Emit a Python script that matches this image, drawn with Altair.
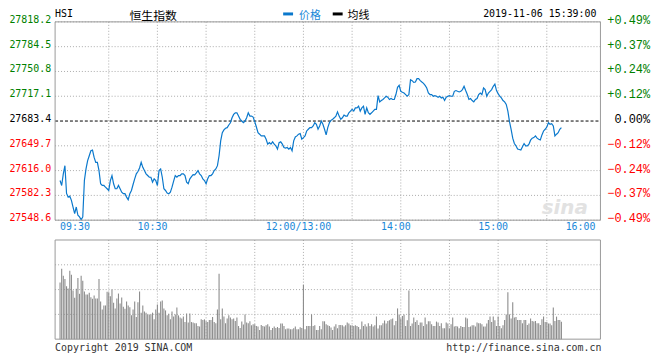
import altair as alt
import pandas as pd

# ---------------- data ----------------
prev_close = 27683.4

# price per trading minute (0 = 09:30, 150 = 12:00/13:00, 330 = 16:00)
prices = [
    27602.5, 27595.8, 27611.6, 27622.7, 27585.0, 27580.0, 27581.2, 27575.6, 27566.5, 27557.6,
    27566.5, 27555.3, 27553.0, 27549.0, 27553.0, 27602.5, 27618.3, 27629.5, 27636.2, 27643.0,
    27643.9, 27633.9, 27627.2, 27627.2, 27616.0, 27598.1, 27595.8, 27595.8, 27593.5, 27591.3,
    27589.0, 27602.5, 27609.3, 27598.1, 27591.3, 27591.3, 27595.8, 27591.3, 27586.7, 27584.6,
    27584.6, 27580.0, 27576.5, 27584.6, 27589.0, 27597.1, 27604.8, 27611.6, 27614.7, 27619.6,
    27627.2, 27620.4, 27616.0, 27611.6, 27609.3, 27607.0, 27607.0, 27600.2, 27604.8, 27602.5,
    27595.8, 27616.0, 27618.3, 27607.0, 27591.3, 27589.0, 27585.4, 27584.6, 27586.7, 27593.5,
    27601.6, 27609.3, 27607.0, 27609.3, 27609.3, 27611.6, 27611.6, 27609.3, 27600.2, 27598.1,
    27604.8, 27607.9, 27610.6, 27610.2, 27612.9, 27616.0, 27611.6, 27609.3, 27604.8, 27602.5,
    27598.1, 27604.8, 27609.3, 27609.3, 27611.6, 27616.0, 27618.3, 27622.7, 27636.2, 27656.4,
    27667.6, 27671.3, 27673.6, 27674.4, 27678.0, 27681.1, 27687.8, 27692.4, 27694.6, 27694.6,
    27690.1, 27685.7, 27683.4, 27681.1, 27683.4, 27687.8, 27694.6, 27690.1, 27690.1, 27688.8,
    27682.5, 27675.3, 27667.6, 27665.5, 27663.2, 27663.2, 27663.2, 27658.7, 27652.0, 27654.1,
    27652.0, 27655.1, 27652.0, 27649.7, 27645.3, 27654.1, 27655.1, 27652.0, 27647.4, 27646.6,
    27647.4, 27645.3, 27647.4, 27643.0, 27656.4, 27661.8, 27663.2, 27665.5, 27666.3, 27658.7,
    27660.9, 27663.2, 27669.9, 27672.2, 27674.4, 27674.4, 27676.7, 27681.1, 27679.0, 27672.2,
    27676.7, 27683.4, 27679.0, 27672.2, 27664.5, 27674.4, 27681.1, 27684.3, 27685.7, 27687.8,
    27690.1, 27695.9, 27690.1, 27685.7, 27687.8, 27691.5, 27690.1, 27690.1, 27694.6, 27696.9,
    27699.2, 27696.9, 27701.3, 27701.3, 27703.6, 27696.9, 27701.3, 27703.6, 27692.4, 27701.3,
    27694.6, 27692.4, 27694.6, 27696.9, 27699.2, 27699.2, 27718.0, 27709.4, 27711.3, 27712.7,
    27714.8, 27717.1, 27715.8, 27712.7, 27714.0, 27712.7, 27712.7, 27719.4, 27729.2, 27731.9,
    27723.8, 27722.5, 27721.5, 27719.4, 27717.1, 27719.4, 27739.6, 27738.3, 27736.0, 27736.4,
    27741.0, 27741.0, 27738.3, 27736.4, 27734.6, 27731.9, 27728.3, 27721.5, 27719.4, 27719.4,
    27717.1, 27718.0, 27717.1, 27715.8, 27717.1, 27714.8, 27715.8, 27711.3, 27715.8, 27717.1,
    27718.0, 27717.1, 27717.1, 27723.8, 27724.8, 27723.8, 27722.9, 27723.8, 27726.1, 27730.6,
    27724.8, 27719.4, 27712.7, 27714.0, 27711.3, 27709.4, 27712.7, 27714.0, 27719.4, 27721.5,
    27719.4, 27728.3, 27726.1, 27717.1, 27721.5, 27723.8, 27726.1, 27730.6, 27733.7, 27724.8,
    27720.7, 27717.1, 27714.8, 27711.3, 27709.4, 27705.9, 27696.9, 27682.5, 27672.2, 27660.1,
    27652.8, 27649.7, 27645.3, 27644.7, 27643.9, 27648.4, 27652.8, 27649.7, 27649.7, 27652.0,
    27657.4, 27660.1, 27660.9, 27663.2, 27660.1, 27658.7, 27657.8, 27664.5, 27669.9, 27672.2,
    27675.3, 27681.1, 27679.0, 27679.8, 27676.7, 27663.2, 27665.5, 27667.6, 27672.2, 27674.4,
]

# volume per trading minute (relative units)
volume = [
    2.29, 2.84, 2.56, 2.43, 2.13, 2.04, 2.76, 2.60, 1.96, 1.67,
    2.03, 2.47, 1.83, 2.56, 2.36, 1.92, 1.80, 1.80, 1.87, 1.69,
    1.63, 1.76, 1.64, 1.64, 2.43, 1.52, 1.20, 1.36, 1.36, 1.91,
    1.89, 1.73, 2.00, 1.47, 1.24, 1.64, 1.84, 1.44, 1.68, 1.31,
    1.23, 1.52, 1.36, 1.29, 0.96, 1.20, 1.52, 0.89, 1.49, 1.92,
    1.07, 1.36, 1.12, 1.07, 1.00, 1.00, 1.00, 1.07, 0.80, 1.20,
    1.40, 1.07, 1.52, 1.56, 1.24, 1.16, 0.96, 1.03, 0.80, 1.12,
    0.91, 1.00, 1.28, 0.96, 0.87, 0.83, 0.91, 0.69, 1.04, 0.67,
    1.04, 0.69, 0.67, 0.64, 0.64, 0.53, 0.51, 0.80, 0.77, 0.80,
    0.72, 0.69, 0.77, 0.77, 0.89, 0.69, 0.64, 1.20, 2.64, 0.80,
    1.24, 0.91, 0.64, 0.83, 0.96, 0.87, 0.80, 0.83, 0.73, 0.87,
    0.53, 0.45, 0.71, 0.59, 1.00, 0.67, 0.64, 0.72, 0.56, 0.60,
    0.60, 0.53, 0.51, 0.37, 0.57, 0.53, 0.51, 0.56, 0.60, 0.51,
    0.37, 0.45, 0.51, 0.45, 0.49, 0.45, 0.63, 0.63, 0.53, 0.40,
    0.43, 0.43, 0.40, 0.40, 0.44, 0.51, 0.40, 0.40, 0.48, 0.45,
    2.20, 0.40, 0.53, 0.53, 0.53, 1.00, 0.53, 0.56, 0.37, 0.37,
    0.53, 0.40, 0.72, 0.72, 0.60, 0.56, 0.53, 0.47, 0.37, 0.51,
    0.60, 0.44, 0.57, 0.57, 0.56, 0.51, 0.56, 0.67, 0.63, 0.56,
    0.56, 0.53, 0.56, 0.53, 0.49, 0.40, 0.71, 0.53, 0.60, 0.51,
    0.64, 0.53, 0.60, 0.51, 0.56, 0.91, 0.43, 0.56, 0.56, 0.64,
    0.75, 0.63, 0.73, 0.76, 0.80, 0.83, 0.56, 0.73, 1.24, 1.00,
    0.83, 0.93, 1.00, 0.53, 0.76, 1.96, 0.53, 0.63, 0.87, 0.69,
    0.76, 0.57, 0.67, 0.67, 0.53, 0.87, 0.60, 0.72, 0.72, 0.60,
    0.53, 0.53, 0.71, 0.67, 0.53, 0.64, 0.44, 0.44, 0.67, 0.63,
    0.44, 0.60, 0.87, 0.51, 0.53, 0.51, 0.44, 0.53, 0.49, 0.49,
    0.87, 0.83, 0.49, 0.51, 0.56, 0.56, 0.51, 0.67, 0.64, 0.64,
    0.60, 0.51, 0.51, 0.63, 0.77, 0.91, 0.69, 0.91, 0.76, 0.53,
    0.91, 0.53, 0.44, 0.56, 0.77, 1.00, 1.89, 1.00, 0.83, 1.49,
    0.87, 0.89, 0.77, 0.77, 0.77, 0.64, 0.77, 0.77, 0.57, 0.63,
    0.83, 0.73, 0.71, 0.73, 0.64, 0.64, 0.57, 0.80, 0.91, 0.69,
    0.69, 0.63, 0.63, 0.56, 1.28, 0.73, 0.91, 0.77, 0.77, 0.70,
]

price_ticks = [27818.2, 27784.5, 27750.8, 27717.1, 27683.4, 27649.7, 27616.0, 27582.3, 27548.6]
grid_minutes = [30, 60, 90, 120, 150, 180, 210, 240, 270, 300]
volume_grid = [1, 2, 3]
x_label_text = ["09:30", "10:30", "12:00/13:00", "14:00", "15:00", "16:00"]
x_label_minute = [0, 60, 150, 210, 270, 330]

# ---------------- frames ----------------
price_df = pd.DataFrame({"m": list(range(len(prices))), "price": prices})
vol_df = pd.DataFrame({"m": list(range(len(volume))), "v": volume})
tick_df = pd.DataFrame({"price": price_ticks})
grid_df = pd.DataFrame({"m": grid_minutes})
vgrid_df = pd.DataFrame({"v": volume_grid})
xl_df = pd.DataFrame({"m": x_label_minute, "label": x_label_text})
prev_df = pd.DataFrame({"price": [prev_close]})
one = pd.DataFrame({"k": [0]})

W, H = 550, 320
MAIN_H = 200
VOL_TOP, VOL_BOT = 220, 320
MONO = "DejaVu Sans Mono"
GRID = "#aaaaaa"
BORDER = "#999999"
BLUE = "#0a78cc"
LBLUE = "#1a88d8"

xs = alt.Scale(domain=[0, 330], nice=False, zero=False)
ys = alt.Scale(domain=[price_ticks[-1], price_ticks[0]], range=[MAIN_H, 0], nice=False, zero=False)
vs = alt.Scale(domain=[0, 4], range=[VOL_BOT, VOL_TOP], nice=False, zero=False)

X = alt.X("m:Q", scale=xs, axis=None)
Yp = alt.Y("price:Q", scale=ys, axis=None)
Yv = alt.Y("v:Q", scale=vs, axis=None)

side_expr = f"datum.price > {prev_close} ? 'up' : (datum.price < {prev_close} ? 'down' : 'flat')"
side_color = alt.Color("side:N", scale=alt.Scale(domain=["up", "flat", "down"],
                                                 range=["#008000", "#000000", "#ff0000"]), legend=None)

# ---------------- main panel ----------------
grid_h = alt.Chart(tick_df).transform_filter(f"datum.price != {prev_close}").mark_rule(
    color=GRID, strokeDash=[1, 2], strokeWidth=1).encode(y=Yp, x=alt.value(0), x2=alt.value(W))
grid_v = alt.Chart(grid_df).mark_rule(color=GRID, strokeDash=[1, 2], strokeWidth=1).encode(
    x=X, y=alt.value(0), y2=alt.value(MAIN_H))
prev_rule = alt.Chart(prev_df).mark_rule(color="black", strokeDash=[3, 2], strokeWidth=1).encode(
    y=Yp, x=alt.value(0), x2=alt.value(W))
line = alt.Chart(price_df).mark_line(color=BLUE, strokeWidth=1.2).encode(x=X, y=Yp)
border_main = alt.Chart(one).mark_rect(fillOpacity=0, stroke=BORDER, strokeWidth=1).encode(
    x=alt.value(0), x2=alt.value(W), y=alt.value(0), y2=alt.value(MAIN_H))
left_labels = alt.Chart(tick_df).transform_calculate(side=side_expr).mark_text(
    align="right", baseline="middle", font=MONO, fontSize=10, dy=-2).encode(
    y=Yp, x=alt.value(-4), text=alt.Text("price:Q", format=".1f"), color=side_color)
right_labels = alt.Chart(tick_df).transform_calculate(
    side=side_expr,
    pct=f"(datum.price > {prev_close} ? '+' : '') + format((datum.price - {prev_close}) / {prev_close} * 100, '.2f') + '%'"
).mark_text(align="right", baseline="middle", font="Liberation Mono", fontSize=12, dy=-2).encode(
    y=Yp, x=alt.value(600), text="pct:N", color=side_color)
watermark = alt.Chart(one).mark_text(text="sina", font="DejaVu Sans", fontSize=20, fontWeight="bold",
                                     fontStyle="italic", color="#e2e2e2", align="center").encode(
    x=alt.value(514), y=alt.value(188))

main = alt.layer(grid_h, grid_v, prev_rule, watermark, line, border_main, left_labels, right_labels)

# ---------------- volume panel ----------------
vgrid_h = alt.Chart(vgrid_df).mark_rule(color=GRID, strokeDash=[1, 2], strokeWidth=1).encode(
    y=Yv, x=alt.value(0), x2=alt.value(W))
vgrid_v = alt.Chart(grid_df).mark_rule(color=GRID, strokeDash=[1, 2], strokeWidth=1).encode(
    x=X, y=alt.value(VOL_TOP), y2=alt.value(VOL_BOT))
bars = alt.Chart(vol_df).mark_bar(size=1.1, color="#8c8c8c").encode(x=X, y=Yv)
border_vol = alt.Chart(one).mark_rect(fillOpacity=0, stroke=BORDER, strokeWidth=1).encode(
    x=alt.value(0), x2=alt.value(W), y=alt.value(VOL_TOP), y2=alt.value(VOL_BOT))
vol = alt.layer(vgrid_h, vgrid_v, bars, border_vol)

# ---------------- texts ----------------
xl_first = alt.Chart(xl_df).transform_filter("datum.m == 0").mark_text(
    align="left", baseline="middle", font=MONO, fontSize=10, color=LBLUE).encode(
    x=X, y=alt.value(207), text="label:N")
xl_mid = alt.Chart(xl_df).transform_filter("datum.m > 0 && datum.m < 330").mark_text(
    align="center", baseline="middle", font=MONO, fontSize=10, color=LBLUE, dx=-5).encode(
    x=X, y=alt.value(207), text="label:N")
xl_last = alt.Chart(xl_df).transform_filter("datum.m == 330").mark_text(
    align="right", baseline="middle", font=MONO, fontSize=10, color=LBLUE).encode(
    x=X, y=alt.value(207), text="label:N")

HY = -8
CY = -5.5
hsi = alt.Chart(one).mark_text(text="HSI", align="left", baseline="middle", font=MONO, fontSize=10,
                               color="black").encode(x=alt.value(0), y=alt.value(HY))
name = alt.Chart(one).mark_text(text="恒生指数", align="left", baseline="middle", font="Noto Sans CJK SC",
                                fontSize=12, color="black").encode(x=alt.value(75), y=alt.value(CY))
leg_price_bar = alt.Chart(one).mark_rect(color=BLUE).encode(
    x=alt.value(230), x2=alt.value(240), y=alt.value(HY - 1.5), y2=alt.value(HY + 1.5))
leg_price = alt.Chart(one).mark_text(text="价格", align="left", baseline="middle", font="Noto Sans CJK SC",
                                     fontSize=11, color=LBLUE).encode(x=alt.value(246), y=alt.value(CY))
leg_avg_bar = alt.Chart(one).mark_rect(color="black").encode(
    x=alt.value(280), x2=alt.value(290), y=alt.value(HY - 1.5), y2=alt.value(HY + 1.5))
leg_avg = alt.Chart(one).mark_text(text="均线", align="left", baseline="middle", font="Noto Sans CJK SC",
                                   fontSize=11, color="black").encode(x=alt.value(295), y=alt.value(CY))
stamp = alt.Chart(one).mark_text(text="2019-11-06 15:39:00", align="right", baseline="middle", font=MONO,
                                 fontSize=10, color="black").encode(x=alt.value(546), y=alt.value(HY))
foot_l = alt.Chart(one).mark_text(text="Copyright 2019 SINA.COM", align="left", baseline="middle",
                                  font=MONO, fontSize=10, color="#333333").encode(x=alt.value(0), y=alt.value(329))
foot_r = alt.Chart(one).mark_text(text="http://finance.sina.com.cn", align="right", baseline="middle",
                                  font=MONO, fontSize=10, color="#333333").encode(x=alt.value(551), y=alt.value(329))

texts = alt.layer(xl_first, xl_mid, xl_last, hsi, name, leg_price_bar, leg_price, leg_avg_bar, leg_avg,
                  stamp, foot_l, foot_r)

chart = alt.layer(main, vol, texts).resolve_scale(y="independent").properties(
    width=W, height=H,
    padding={"left": 47.5, "top": 12.5, "right": 52, "bottom": 18},
    autosize=alt.AutoSizeParams(type="none"),
    background="white",
).configure_view(stroke=None)

chart.save("out.html", embed_options={"renderer": "svg", "actions": False})
